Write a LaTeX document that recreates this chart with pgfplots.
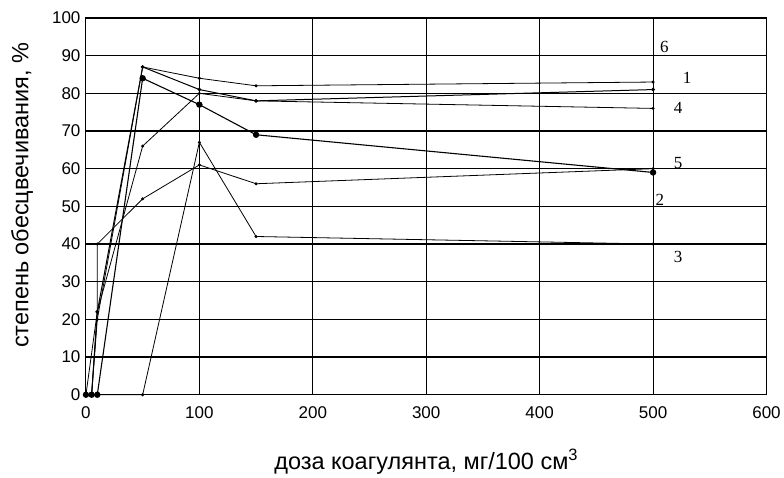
\documentclass[border=0pt]{standalone}
\usepackage{fontspec}
\setmainfont{Liberation Sans}
\newfontfamily\serifnum{Liberation Serif}
\usepackage{pgfplots}
\pgfplotsset{compat=1.18}
\begin{document}
\begin{tikzpicture}
\begin{axis}[
  scale only axis, width=681pt, height=377pt,
  xmin=0, xmax=600, ymin=0, ymax=100,
  xtick={0,100,...,600}, ytick={0,10,...,100},
  major tick length=0pt,
  axis line style={black, line width=1pt},
  xmajorgrids, ymajorgrids,
  x grid style={black, line width=0.9pt},
  y grid style={black, line width=1.2pt},
  tick label style={font=\fontsize{17}{17}\selectfont},
  /pgf/number format/assume math mode=true,
  xticklabel style={yshift=-8pt},
  yticklabel style={xshift=-2pt},
  xlabel={доза коагулянта, мг/100 см\textsuperscript{3}},
  ylabel={степень обесцвечивания, \%},
  label style={font=\fontsize{23.5}{23.5}\selectfont},
  xlabel style={at={(axis description cs:0.5,0)}, anchor=center, yshift=-67pt},
  ylabel style={at={(axis description cs:0,0.5)}, anchor=center, yshift=64pt, xshift=11pt},
  clip=false,
]
% series 1
\addplot[black, line width=1pt, mark=*, mark size=1.3pt] coordinates {(0,0) (5,0) (10,22) (50,87) (100,81) (150,78) (500,81)};
% series 6
\addplot[black, line width=0.8pt, mark=*, mark size=1.1pt] coordinates {(0,0) (5,0) (10,20) (50,87) (100,84) (150,82) (500,83)};
% series 5
\addplot[black, line width=1.1pt, mark=*, mark size=2.6pt] coordinates {(0,0) (5,0) (10,0) (50,84) (100,77) (150,69) (500,59)};
% series 4
\addplot[black, line width=0.8pt, mark=*, mark size=1.1pt] coordinates {(0,0) (5,0) (10,22) (50,66) (100,80) (150,78) (500,76)};
% series 2
\addplot[black, line width=0.8pt, mark=*, mark size=1.1pt] coordinates {(0,0) (10,22) (10,40) (50,52) (100,61) (150,56) (500,60)};
% series 3
\addplot[black, line width=0.8pt, mark=*, mark size=1.1pt] coordinates {(0,0) (50,0) (100,67) (150,42) (500,40)};
\node[font=\serifnum\fontsize{17}{17}\selectfont] at (axis cs:510,92.3) {6};
\node[font=\serifnum\fontsize{17}{17}\selectfont] at (axis cs:530,84) {1};
\node[font=\serifnum\fontsize{17}{17}\selectfont] at (axis cs:522,76) {4};
\node[font=\serifnum\fontsize{17}{17}\selectfont] at (axis cs:522,61.5) {5};
\node[font=\serifnum\fontsize{17}{17}\selectfont] at (axis cs:506,51.7) {2};
\node[font=\serifnum\fontsize{17}{17}\selectfont] at (axis cs:522,36.6) {3};
\end{axis}
\path (current axis.south west) ++(-86pt,-78pt) rectangle ++(784pt,473pt);
\end{tikzpicture}
\end{document}
